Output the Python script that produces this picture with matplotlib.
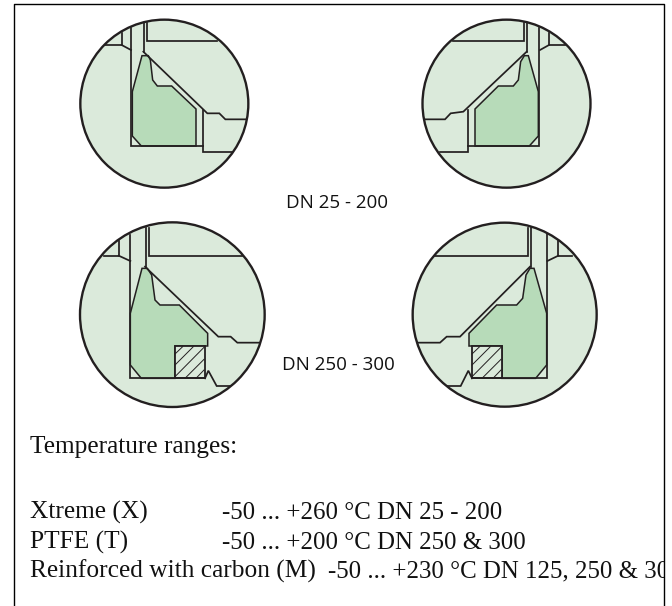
import matplotlib
matplotlib.use('Agg')
import matplotlib.pyplot as plt
from matplotlib.patches import Circle, Polygon, Rectangle

LINE = '#231f20'
LIGHT = '#dbeadb'
SEAL = '#b7dbb9'

d1_origin = (70, 10)
d1_circle = (283, 281, 252)
d1_seal = [(187, 245), (216, 137), (235, 137), (241, 150), (248, 210), (262, 228), (305, 228),
           (378, 297), (378, 408), (214, 408), (187, 378)]
d1_lines = [
    [(183, 55), (183, 408), (398, 408)],
    [(398, 300), (398, 427), (487, 427)],
    [(220, 125), (412, 310), (448, 310), (466, 328), (528, 328)],
    [(222, 38), (222, 125)],
    [(230, 38), (230, 92), (440, 92)],
    [(155, 68), (155, 105), (105, 105)],
    [(155, 105), (183, 120)],
]

d2_origin = (410, 10)
d2_circle = (289.5, 281, 252)
d2_seal = [(385, 245), (355, 137), (343, 137), (332, 155), (325, 210), (310, 228), (265, 228),
           (195, 297), (195, 408), (358, 408), (385, 378)]
d2_lines = [
    [(388, 55), (388, 408), (175, 408)],
    [(175, 300), (175, 427), (90, 427)],
    [(350, 125), (160, 305), (122, 310), (105, 328), (45, 328)],
    [(350, 38), (350, 125)],
    [(343, 38), (343, 92), (128, 92)],
    [(417, 68), (417, 105), (465, 105)],
    [(417, 105), (390, 120)],
]

d3_origin = (70, 215)
d3_circle = (307, 299, 277)
d3_seal = [(181, 295), (216, 160), (232, 160), (245, 180), (255, 255), (270, 270), (328, 270),
           (413, 355), (413, 393), (315, 393), (315, 490), (214, 490), (181, 450)]
d3_box = (315, 393, 90, 97)
d3_hatch = [
    [(315, 417), (338, 395)],
    [(315, 450), (370, 395)],
    [(315, 485), (402, 397)],
    [(345, 490), (402, 433)],
    [(378, 490), (402, 465)],
]
d3_lines = [
    [(181, 60), (181, 490), (405, 490)],
    [(228, 38), (228, 160)],
    [(238, 38), (238, 122), (515, 122)],
    [(225, 155), (445, 365), (482, 365), (502, 383), (568, 383)],
    [(405, 490), (415, 467), (440, 513), (480, 513)],
    [(146, 78), (146, 122), (103, 122)],
    [(146, 122), (181, 138)],
]

d4_origin = (400, 215)
d4_circle = (314, 299, 276)
d4_seal = [(440, 295), (402, 160), (390, 160), (378, 180), (368, 250), (350, 270), (290, 270),
           (207, 355), (207, 393), (306, 393), (306, 490), (407, 490), (440, 450)]
d4_box = (216, 393, 90, 97)
d4_hatch = [
    [(216, 417), (239, 395)],
    [(216, 450), (271, 395)],
    [(216, 485), (303, 397)],
    [(246, 490), (303, 433)],
    [(279, 490), (303, 465)],
]
d4_lines = [
    [(440, 55), (440, 490), (216, 490)],
    [(385, 38), (385, 122), (105, 122)],
    [(393, 38), (393, 155)],
    [(390, 155), (180, 365), (140, 365), (120, 383), (55, 383)],
    [(216, 490), (205, 467), (182, 513), (140, 513)],
    [(475, 78), (475, 122), (517, 122)],
    [(475, 122), (442, 138)],
]

materials = ['Xtreme (X)', 'PTFE (T)', 'Reinforced with carbon (M)']
temps = ['-50 ... +260 °C DN 25 - 200', '-50 ... +200 °C DN 250 & 300', '-50 ... +230 °C DN 125, 250 & 300']


def draw_detail(ax, origin, circ, seal, lines, box=None, hatch=()):
    ox, oy = origin

    def conv(pts):
        return [(x / 3 + ox, y / 3 + oy) for x, y in pts]

    cx, cy = conv([circ[:2]])[0]
    r = circ[2] / 3
    ax.add_patch(Circle((cx, cy), r, fc=LIGHT, ec='none', zorder=1))
    clip = Circle((cx, cy), r, transform=ax.transData)
    p = Polygon(conv(seal), closed=True, fc=SEAL, ec=LINE, lw=1.1, zorder=2)
    ax.add_patch(p)
    p.set_clip_path(clip)
    if box is not None:
        bx, by = conv([box[:2]])[0]
        ax.add_patch(Rectangle((bx, by), box[2] / 3, box[3] / 3, fc=LIGHT, ec=LINE, lw=1.3, zorder=3))
    for pts in hatch:
        xy = conv(pts)
        ax.plot([a for a, b in xy], [b for a, b in xy], color=LINE, lw=0.7, zorder=3.5)
    for pts in lines:
        xy = conv(pts)
        l, = ax.plot([a for a, b in xy], [b for a, b in xy], color=LINE, lw=1.25, zorder=4,
                     solid_joinstyle='miter')
        l.set_clip_path(clip)
    ax.add_patch(Circle((cx, cy), r, fc='none', ec=LINE, lw=1.7, zorder=5))


fig = plt.figure(figsize=(6.72, 6.06), dpi=100)
ax = fig.add_axes([0, 0, 1, 1])
ax.set_xlim(0, 672)
ax.set_ylim(606, 0)
ax.axis('off')

# page frame, bottom edge runs off the picture
ax.plot([14, 14, 664, 664], [606, 4, 4, 606], color='black', lw=1.0)

draw_detail(ax, d1_origin, d1_circle, d1_seal, d1_lines)
draw_detail(ax, d2_origin, d2_circle, d2_seal, d2_lines)
draw_detail(ax, d3_origin, d3_circle, d3_seal, d3_lines, d3_box, d3_hatch)
draw_detail(ax, d4_origin, d4_circle, d4_seal, d4_lines, d4_box, d4_hatch)

sans = dict(family='Open Sans', fontsize=13.5, ha='center', va='baseline', color='#111111')
ax.text(337, 208, 'DN 25 - 200', **sans)
ax.text(338, 370, 'DN 250 - 300', **sans)

serif = dict(family='Liberation Serif', color='#111111', va='baseline')
ax.text(30, 453, 'Temperature ranges:', fontsize=18.3, **serif)
clip_box = Rectangle((14, 4), 650, 602, transform=ax.transData)
for y, name, temp, tx in zip([519, 549, 578], materials, temps, [222, 222, 328]):
    ax.text(30, y, name, fontsize=18.3, **serif)
    # the third line has a comma that pushes its baseline down, nudge it back
    t = ax.text(tx, y - 1 if tx > 222 else y, temp, clip_on=True, fontsize=17.9, **serif)
    t.set_clip_path(clip_box)

fig.savefig('out.png', dpi=100)
